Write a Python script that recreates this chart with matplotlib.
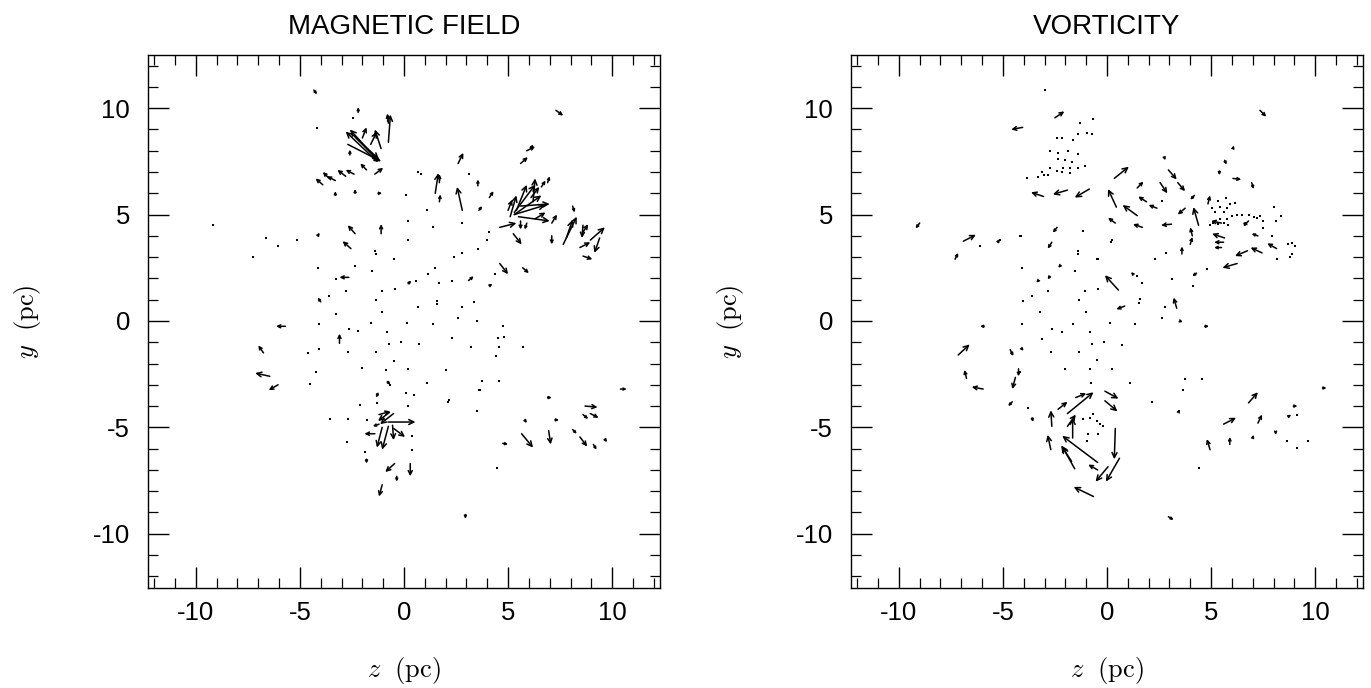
#!/usr/bin/env python3
"""Vector maps of magnetic field and vorticity in the z-y plane."""

import matplotlib
matplotlib.use("Agg")
import matplotlib.pyplot as plt
from matplotlib.ticker import MultipleLocator
import numpy as np

plt.rcParams["font.family"] = ["Liberation Sans", "DejaVu Sans"]
plt.rcParams["mathtext.fontset"] = "cm"
plt.rcParams["axes.unicode_minus"] = False

# ---- magnetic field: arrows as (z, y, dz, dy) in pc ----
mag_north = [
    (-1.3, 7.5, -1.5, 1.4), (-1.4, 7.7, -1.2, 1.3), (-2.5, 8.8, 1.3, -1.3),
    (-2.3, 8.6, 1.1, -1.0), (-2.7, 8.3, 1.6, -0.8), (-0.75, 8.4, 0.1, 1.3),
    (-1.1, 8.1, -0.3, 0.9), (-1.6, 8.3, 0.3, 0.6), (-2.0, 8.6, 0.2, 0.5),
    (-0.75, 9.3, -0.05, 0.45), (-2.2, 9.8, 0.0, 0.25), (-3.3, 6.6, -0.4, 0.2),
    (-3.6, 6.7, -0.3, 0.3), (-2.8, 6.8, -0.4, 0.3), (-2.4, 6.9, -0.4, 0.2),
    (-3.9, 6.4, -0.35, 0.3), (-1.8, 7.1, -0.3, 0.3), (-1.4, 6.9, 0.4, 0.3),
    (-2.6, 7.8, 0.0, 0.25), (-2.35, 6.0, 0.0, 0.2), (-1.25, 6.0, 0.2, 0.0),
    (-3.3, 5.9, 0.0, 0.2), (-4.33, 10.85, 0.15, -0.2), (7.3, 9.9, 0.35, -0.25),
    (6.1, 8.1, 0.1, 0.2),
]
mag_east = [
    (2.6, 7.4, 0.25, 0.5), (5.6, 7.4, 0.35, 0.3), (5.9, 8.0, 0.4, 0.2),
    (1.5, 6.0, 0.15, 0.95), (1.7, 6.5, 0.0, 0.4), (1.7, 5.6, 0.05, 0.35),
    (2.8, 5.2, -0.25, 1.1), (3.55, 6.35, 0.0, 0.3), (4.1, 5.8, 0.2, 0.3),
    (3.6, 5.2, 0.15, 0.2), (5.3, 5.0, 1.5, 0.45), (5.3, 5.0, 1.3, 0.9),
    (5.3, 5.1, 1.0, 1.3), (5.4, 5.2, 0.5, 1.2), (5.1, 4.9, 0.3, 1.0),
    (6.2, 5.6, 0.1, 1.1), (5.6, 5.4, 1.4, 0.1), (5.5, 4.9, 1.5, -0.2),
    (6.1, 5.8, 0.4, 0.5), (5.0, 5.2, 0.2, 0.5), (6.3, 4.8, 0.5, 0.3),
    (5.9, 4.6, -0.1, -0.3), (6.6, 6.3, 0.2, 0.3), (6.9, 6.5, 0.1, 0.3),
    (4.6, 4.4, 0.8, 0.2), (5.25, 4.1, 0.4, -0.5), (5.6, 4.7, 0.0, -0.4),
    (4.6, 2.7, 0.4, -0.5), (5.7, 2.5, 0.3, -0.25), (7.1, 4.6, 0.25, 0.4),
    (7.65, 3.6, 0.65, 1.3), (7.8, 3.9, 0.3, 0.85), (7.1, 4.0, 0.0, -0.4),
    (8.55, 4.1, 0.3, 0.45), (8.6, 4.5, -0.05, -0.6), (8.1, 5.4, 0.1, -0.3),
    (8.45, 3.45, 0.5, 0.25), (8.95, 3.8, 0.7, 0.6), (9.4, 3.9, -0.25, -0.7),
    (8.6, 3.05, 0.45, -0.15), (0.2, 1.75, 0.15, 0.15), (3.1, 1.9, 0.25, 0.2),
    (4.1, 1.65, 0.15, 0.1), (10.4, -3.2, 0.3, 0.0),
]
mag_west = [
    (-2.35, 4.1, -0.35, 0.4), (-1.1, 4.1, 0.0, 0.45), (-2.55, 3.4, -0.4, 0.35),
    (-2.65, 2.05, -0.45, 0.0), (-4.0, 0.9, -0.15, 0.2), (-5.7, -0.25, -0.45, 0.0),
    (-3.1, -1.05, 0.0, 0.45), (-6.75, -1.5, -0.25, 0.35), (-6.45, -2.6, -0.7, 0.15),
    (-6.05, -3.0, -0.45, -0.25), (-0.8, -2.85, 0.15, -0.15), (-1.25, -3.4, -0.1, -0.2),
    (-4.15, 4.0, 0.1, 0.15),
]
mag_south = [
    (-0.75, -4.75, 1.3, 0.0), (-0.5, -4.35, -0.65, -0.5), (-0.7, -4.3, -0.55, -0.4),
    (-1.2, -4.4, 0.55, 0.15), (-1.4, -5.3, -0.5, 0.0), (-1.2, -4.85, -0.3, -0.1),
    (-0.75, -4.95, -0.3, -1.1), (-1.05, -5.0, -0.25, -0.95), (-0.55, -4.9, 0.05, -0.7),
    (-0.5, -5.05, 0.55, -0.4), (-1.8, -6.5, 0.0, -0.2), (-0.45, -6.7, -0.45, -0.4),
    (0.3, -6.7, 0.0, -0.6), (-0.35, -7.3, 0.0, -0.25), (-1.05, -7.7, -0.15, -0.55),
    (2.95, -9.1, 0.0, -0.2), (6.9, -3.6, 0.2, 0.0), (8.7, -4.0, 0.6, -0.05),
    (8.6, -4.4, 0.25, -0.2), (8.95, -4.35, 0.4, -0.2), (5.8, -4.65, 0.1, -0.15),
    (7.25, -4.65, 0.2, 0.0), (4.75, -5.75, 0.25, -0.05), (5.65, -5.3, 0.55, -0.65),
    (6.95, -5.15, 0.1, -0.65), (8.1, -5.1, 0.2, -0.2), (8.45, -5.45, 0.35, -0.45),
    (9.1, -5.8, 0.15, -0.25), (9.65, -5.55, 0.1, -0.15),
]
mag_dot_z = [
    -4.2, -9.2, -7.25, -6.65, -6.05, -5.15, -2.45, -1.4, -1.35, -0.5, -4.15, -3.25,
    -2.35, -1.55, -2.8, -3.6, -1.05, -1.35, -0.45, -1.05, -3.25, -4.1, -2.65, -2.2,
    -1.6, -0.8, -4.6, -4.1, -2.7, -1.35, -0.7, -4.25, -4.5, -2.0, -0.85, -0.5,
    0.2, 0.2, 1.1, 1.4, 2.8, 3.1, 4.1, 4.0, 3.55, 2.8, 2.4, 1.5, 1.15, 1.7, 2.3,
    0.6, 4.35, 1.6, 1.6, 0.65, 2.8, 3.35, 0.15, 1.4, 2.6, 3.5, 4.75, -0.15, 0.7,
    2.3, 3.2, 4.5, 4.8, 4.55, 5.7, 0.2, 2.0, 4.4, -0.65, 1.1, 3.75, 4.55, 3.6,
    0.1, 0.5, 2.15, -2.1, -1.3, 0.2, 2.1, 3.65, 3.5, -3.55, -2.7, -1.8, 0.4, 0.4,
    -1.85, -2.75, 4.45, 0.8, 0.1, 0.65,
]
mag_dot_y = [
    9.05, 4.5, 3.0, 3.9, 3.5, 3.8, 9.55, 3.3, 3.15, 2.9, 2.5, 1.95,
    2.6, 2.35, 1.4, 1.15, 1.4, 1.0, 1.5, 0.4, 0.35, -0.15, -0.4, -0.45,
    -0.1, -0.5, -1.5, -1.3, -1.45, -1.45, -1.1, -2.4, -2.95, -2.2, -2.3, -1.9,
    4.7, 3.8, 5.2, 4.4, 4.6, 6.9, 4.2, 3.8, 3.4, 3.2, 3.0, 2.5, 2.2, 1.8, 1.9,
    1.9, 2.2, 0.95, 0.8, 0.65, 0.65, 0.9, -0.1, -0.15, 0.15, 0.0, -0.25, -1.0, -1.1,
    -0.8, -1.2, -0.8, -0.75, -1.2, -1.2, -2.25, -2.3, -1.65, -3.0, -2.9, -2.8, -2.8, -3.25,
    -3.4, -3.5, -3.7, -3.95, -3.85, -4.0, -3.8, -3.25, -4.25, -4.6, -4.6, -4.65, -5.4, -6.05,
    -6.15, -5.7, -6.9, 6.9, 5.9, 7.0,
]

# ---- vorticity: arrows as (z, y, dz, dy) in pc ----
vor_north = [
    (-4.05, 9.1, -0.55, -0.1), (-2.5, 9.55, 0.45, 0.3), (7.35, 9.9, 0.3, -0.3),
    (-3.05, 5.85, -0.6, 0.2), (-1.9, 6.15, -0.7, -0.2), (-0.85, 6.2, -0.7, -0.4),
    (0.35, 6.7, 0.7, 0.55), (0.45, 5.35, -0.4, 0.85), (1.45, 4.95, -0.7, 0.5),
    (1.45, 6.25, 0.3, 0.3), (2.75, 7.7, 0.05, -0.15), (2.95, 7.1, 0.4, -0.45),
    (3.4, 6.5, 0.35, -0.4), (2.55, 6.5, 0.35, -0.5), (2.4, 5.3, -0.4, 0.15),
    (1.9, 5.6, -0.4, 0.25), (3.75, 5.3, -0.35, -0.3), (3.1, 4.55, -0.5, -0.05),
    (1.7, 4.4, -0.45, 0.15), (0.4, 4.6, -0.35, 0.25), (4.4, 4.5, -0.25, 0.85),
    (4.1, 4.0, -0.1, 0.4), (4.0, 3.6, 0.1, 0.35), (3.6, 3.15, 0.0, 0.35),
    (4.85, 5.5, 0.1, 0.4), (4.2, 5.9, -0.2, -0.2),
]
vor_east = [
    (5.65, 3.9, -0.6, 0.2), (5.6, 3.7, -0.45, 0.0), (5.5, 4.6, -0.5, 0.1),
    (5.5, 3.45, -0.35, 0.0), (6.75, 3.3, -0.6, -0.25), (7.45, 3.2, -0.55, 0.25),
    (8.15, 3.4, -0.45, 0.25), (7.25, 4.0, -0.3, 0.1), (6.8, 4.7, -0.25, -0.25),
    (6.6, 4.55, 0.15, 0.1), (6.25, 2.7, -0.7, -0.2), (6.05, 6.7, 0.4, -0.05),
    (6.95, 6.5, 0.1, -0.3), (5.65, 7.55, 0.1, -0.2), (5.4, 7.05, 0.0, -0.2),
    (6.05, 8.1, 0.05, 0.15), (4.3, 2.25, -0.2, -0.15), (1.25, 2.2, -0.1, 0.1),
    (0.55, 1.45, -0.65, 0.7), (0.85, 0.7, -0.4, -0.15), (3.35, 0.6, -0.15, 0.5),
    (3.5, 0.0, 0.15, -0.05), (4.7, -0.25, 0.2, 0.0),
]
vor_west = [
    (-2.4, 4.4, -0.2, -0.25), (-2.65, 3.7, -0.2, -0.3), (-9.0, 4.6, -0.2, -0.25),
    (-6.9, 3.75, 0.6, 0.3), (-7.3, 2.9, 0.15, 0.3), (-5.25, 3.7, 0.1, 0.15),
    (-2.25, 2.6, -0.1, -0.1), (-2.75, 2.1, -0.1, -0.15), (-3.3, 1.9, -0.1, -0.1),
    (-5.9, -0.25, -0.2, 0.0), (-7.15, -1.6, 0.55, 0.5), (-4.65, -1.35, 0.15, -0.3),
    (-4.1, -1.3, 0.1, -0.1), (-6.75, -2.7, -0.1, 0.4), (-5.95, -3.2, -0.55, 0.1),
    (-4.25, -2.25, 0.0, -0.35), (-4.4, -2.65, -0.15, -0.55),
]
vor_south = [
    (-4.55, -3.8, -0.2, -0.2), (-3.6, -4.55, 0.05, -0.2), (-2.65, -4.95, -0.05, 0.75),
    (-2.7, -6.05, -0.15, 0.7), (-2.35, -4.15, 0.45, 0.35), (-1.9, -4.35, 1.25, 1.0),
    (-1.5, -3.6, 0.5, 0.2), (-1.9, -4.95, 0.4, 0.55), (-1.65, -5.5, 0.0, 0.95),
    (-0.45, -6.65, -1.7, 1.25), (-1.55, -6.95, -0.6, 1.05), (-1.7, -6.6, -0.5, 0.75),
    (-0.45, -7.0, -0.45, 0.25), (-0.65, -8.25, -0.95, 0.45), (0.6, -6.45, -0.65, -1.1),
    (0.05, -6.85, -0.6, -0.7), (0.4, -5.05, -0.05, -1.45), (-0.1, -3.3, 0.65, -0.35),
    (-0.1, -3.75, 0.6, -0.5), (3.45, -4.25, 0.05, 0.1), (6.8, -3.85, 0.45, 0.5),
    (5.6, -4.85, 0.6, 0.3), (7.25, -4.8, 0.2, 0.4), (4.95, -6.05, -0.15, 0.5),
    (5.9, -5.8, 0.0, 0.35), (7.0, -5.5, 0.05, 0.15), (8.1, -5.2, 0.0, -0.15),
    (8.7, -4.5, 0.15, 0.1), (8.95, -4.0, 0.2, 0.0), (10.35, -3.15, 0.2, 0.0),
    (2.95, -9.2, 0.25, -0.15),
]
vor_dot_z = [
    -3.0, -1.3, -0.65, -2.4, -2.15, -1.65, -1.4, -0.95, -0.7, -2.75, -2.35, -1.85,
    -1.4, -2.35, -2.0, -1.7, -2.75, -2.4, -2.1, -1.8, -1.4, -1.05, -3.1, -2.85,
    -2.15, -1.8, -3.85, -3.3, -3.05,
    5.35, 5.7, 5.9, 6.15, 5.75, 5.05, 5.45, 5.75, 6.0, 6.25, 6.5, 5.1, 5.35, 5.6,
    5.8, 4.95, 5.45, 5.6, 5.2, 7.2, 7.35, 7.5, 8.0, 8.35, 7.95, 7.5, 8.1, 8.7,
    8.8, 8.9, 9.05, 8.9, 8.15, 6.8, 7.05, 2.65,
    -4.2, -5.15, -1.4, -1.15, 0.25, -0.45, -1.55, -4.1, -6.1, -4.15, -1.4, -0.5,
    1.45, 1.7, -4.05, -3.6, -2.85, -1.05, -1.35, -0.45, -1.0, -3.2, -4.1, -2.65,
    -2.15, -1.65, -0.8, 0.15, 1.35, -3.1, -2.7, -1.35, -0.7, -0.15, 0.7, -2.0,
    -0.8, 0.25, -0.5, 1.1, -0.75, -4.2, -3.8, 2.15, 3.75, 4.55, 3.65, 8.65, 9.15,
    9.65, 9.15, 4.4, -1.15, -0.8, -0.65, -0.5, -0.9, -0.35, -0.45, -0.95, -0.2,
    3.1, 4.15, 4.8, 1.6, 1.55, 2.8, 2.65, 2.3, 2.85, 0.2,
]
vor_dot_y = [
    10.85, 9.3, 9.5, 8.6, 8.6, 8.5, 8.8, 8.85, 8.8, 8.0, 7.9, 8.0,
    7.85, 7.6, 7.55, 7.45, 7.2, 7.05, 7.2, 7.2, 7.2, 7.3, 7.0, 6.85,
    7.0, 6.95, 6.7, 6.75, 6.85,
    5.65, 5.8, 5.5, 5.55, 5.3, 5.3, 4.8, 4.8, 4.95, 5.0, 5.0, 4.6, 4.55, 4.6,
    4.5, 4.5, 5.35, 5.1, 5.1, 4.85, 4.95, 4.7, 5.35, 4.95, 4.0, 4.35, 4.7, 3.6,
    3.0, 3.65, 3.5, 3.15, 2.9, 5.0, 4.9, 5.65,
    4.0, 3.8, 3.3, 4.25, 3.8, 2.9, 2.35, 2.5, 3.5, 4.0, 3.15, 2.9,
    2.1, 1.8, 0.95, 1.15, 1.4, 1.4, 1.0, 1.5, 0.4, 0.4, -0.15, -0.4,
    -0.5, -0.15, -0.5, -0.1, -0.15, -0.85, -1.45, -1.45, -1.1, -1.0, -1.15, -2.25,
    -2.25, -2.25, -1.85, -2.9, -2.9, -2.4, -4.1, -3.8, -2.75, -2.75, -3.25, -5.65, -5.95,
    -5.65, -4.4, -6.9, -4.6, -4.55, -4.35, -4.7, -5.3, -4.85, -5.3, -5.65, -4.95,
    1.95, 1.65, 2.45, 1.05, 0.85, 0.65, 0.15, 2.9, 3.2, 3.7,
]

panels = [
    ("MAGNETIC FIELD", mag_north + mag_east + mag_west + mag_south, mag_dot_z, mag_dot_y),
    ("VORTICITY", vor_north + vor_east + vor_west + vor_south, vor_dot_z, vor_dot_y),
]


def draw_panel(ax, title, arrows, dot_z, dot_y):
    for z, y, dz, dy in arrows:
        length = np.hypot(dz, dy)
        ms = float(np.clip(length * 12, 3.5, 9.0))
        ax.annotate(
            "", xy=(z + dz, y + dy), xytext=(z, y),
            arrowprops=dict(arrowstyle="->", lw=1.1, color="black",
                            shrinkA=0, shrinkB=0, mutation_scale=ms),
        )
    ax.plot(dot_z, dot_y, "s", ms=1.8, color="black", mew=0)

    ax.set_xlim(-12.3, 12.3)
    ax.set_ylim(-12.55, 12.5)
    ax.set_xticks([-10, -5, 0, 5, 10])
    ax.set_yticks([-10, -5, 0, 5, 10])
    ax.xaxis.set_minor_locator(MultipleLocator(1))
    ax.yaxis.set_minor_locator(MultipleLocator(1))
    ax.tick_params(which="both", direction="in", top=True, right=True, color="black")
    ax.tick_params(which="major", length=15, width=1.0, labelsize=18.5)
    ax.tick_params(which="minor", length=7.5, width=0.9)
    ax.tick_params(axis="x", which="major", pad=9)
    ax.tick_params(axis="y", which="major", pad=13)
    for sp in ax.spines.values():
        sp.set_linewidth(1.0)

    ax.set_title(title, fontsize=20, pad=15,
                 family=["Liberation Sans Narrow", "Liberation Sans", "DejaVu Sans"])
    ax.set_xlabel(r"$z\ \ \mathrm{(pc)}$", fontsize=19)
    ax.set_ylabel(r"$y\ \ \mathrm{(pc)}$", fontsize=19)
    ax.xaxis.set_label_coords(0.5, -0.125)
    ax.yaxis.set_label_coords(-0.205, 0.5)


fig = plt.figure(figsize=(13.71, 6.88), dpi=100)
ax_left = fig.add_axes([148 / 1371, 1 - 588 / 688, 512 / 1371, 533 / 688])
ax_right = fig.add_axes([851 / 1371, 1 - 588 / 688, 512 / 1371, 533 / 688])

for ax, (title, arrows, dz, dy) in zip([ax_left, ax_right], panels):
    draw_panel(ax, title, arrows, dz, dy)

fig.savefig("out.png", dpi=100)
plt.close(fig)
